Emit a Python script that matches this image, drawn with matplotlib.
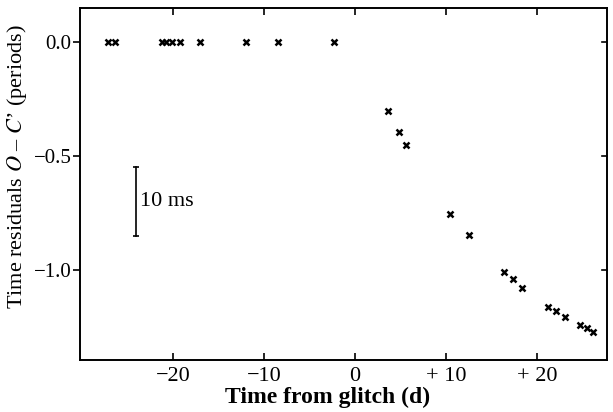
import matplotlib
matplotlib.use("Agg")
import matplotlib.pyplot as plt

plt.rcParams["font.family"] = ["Liberation Serif", "DejaVu Serif"]
plt.rcParams["mathtext.fontset"] = "stix"

# days from glitch, residuals in periods
days = [-27.1, -26.4, -21.2, -20.7, -20.1, -19.2, -17.0, -12.0, -8.4, -2.3,
        3.6, 4.8, 5.6, 10.5, 12.5, 16.4, 17.4, 18.4, 21.2, 22.1, 23.1,
        24.7, 25.5, 26.2]
resid = [0.0, 0.0, 0.0, 0.0, 0.0, 0.0, 0.0, 0.0, 0.0, 0.0,
         -0.30, -0.395, -0.45, -0.754, -0.846, -1.009, -1.04, -1.079,
         -1.162, -1.18, -1.206, -1.241, -1.254, -1.27]

xticks = [-20, -10, 0, 10, 20]
xticklabels = ["\u221220", "\u221210", "0", "+ 10", "+ 20"]
yticks = [0.0, -0.5, -1.0]
yticklabels = ["0.0", "\u22120.5", "\u22121.0"]

# scale bar: 10 ms
bar_x = -24.0
bar_y = [-0.548, -0.851]


def main():
    fig = plt.figure(figsize=(6.13, 4.12), dpi=100)
    ax = fig.add_axes([80 / 613, 52 / 412, 527 / 613, 352 / 412])

    ax.plot(days, resid, linestyle="none", marker="x", color="black",
            markersize=4, markeredgewidth=1.8)

    # scale bar
    ax.plot([bar_x, bar_x], bar_y, color="black", lw=1.2,
            marker="_", markersize=5, markeredgewidth=1.2)
    ax.text(bar_x + 0.4, sum(bar_y) / 2, "10 ms", fontsize=16,
            va="center", ha="left")

    ax.set_xlim(-30.2, 27.7)
    ax.set_ylim(-1.395, 0.15)
    ax.set_xticks(xticks)
    ax.set_xticklabels(xticklabels, fontsize=16)
    ax.set_yticks(yticks)
    ax.set_yticklabels(yticklabels, fontsize=15)

    ax.tick_params(axis="x", direction="in", top=True, length=5, width=1.2, pad=5)
    ax.tick_params(axis="y", direction="out", length=5, width=1.2, pad=1)
    ax.tick_params(axis="y", which="both", right=False)
    for y in yticks:
        ax.plot([27.7 - 0.6, 27.7], [y, y], color="black", lw=1.2, clip_on=False)

    for s in ax.spines.values():
        s.set_linewidth(1.4)

    ax.set_xlabel("Time from glitch (d)", fontsize=17, fontweight="bold", labelpad=0)
    ax.set_ylabel("Time residuals $\\it{O}$ \u2013 $\\it{C}$\u2019 (periods)",
                  fontsize=16, labelpad=2)
    ax.xaxis.set_label_coords(0.47, -0.075)
    ax.yaxis.set_label_coords(-0.097, 0.55)

    fig.savefig("out.png", dpi=100)


if __name__ == "__main__":
    main()
